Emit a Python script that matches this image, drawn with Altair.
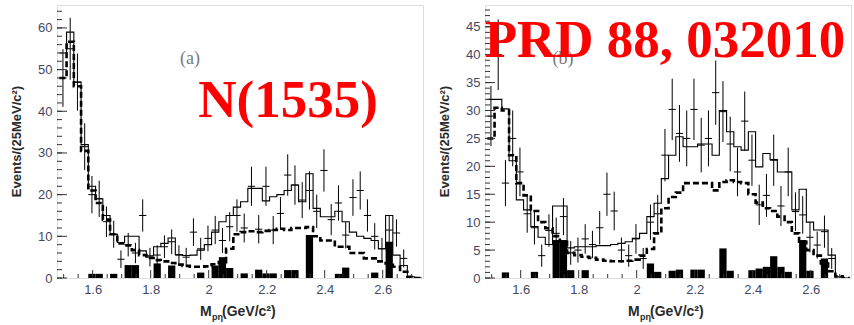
import altair as alt
import pandas as pd

# ---------------- data ----------------
EDGE0 = 1.485          # lower edge of first 25 MeV bin
BINW = 0.025
X_DOMAIN = [1.477, 2.739]
X_MAJOR = [1.6, 1.8, 2.0, 2.2, 2.4, 2.6]
X_MINOR = [1.5, 1.55, 1.65, 1.7, 1.75, 1.85, 1.9, 1.95, 2.05, 2.1, 2.15,
           2.25, 2.3, 2.35, 2.45, 2.5, 2.55, 2.65, 2.7]

# panel (a)
a_data = [48, 55, 47, 31.5, 20, 19, 13.5, 10.5, 4.5, 8,
          6, 15, 5, 5.5, 7.5, 8.7, 5.5, 5, 11, 7,
          9.5, 11.5, 9, 12.3, 15, 12, 22, 11.7, 22, 11.5,
          15.5, 24.7, 22.3, 18.7, 21, 16, 25.8, 14, 18, 10.3,
          19.3, 21, 15, 10, 7, 11.5, 10.8, 4.7, 0, 0]
a_fit = [54, 59, 47, 32, 22, 19, 15, 10.5, 8.5, 10,
         10, 6.5, 5.3, 7.5, 8.3, 9.6, 5.6, 5.4, 5.5, 6.7,
         8, 11, 13.5, 15, 17, 18.3, 21.5, 21.5, 18.5, 19.5,
         20, 21, 22.3, 18.3, 25, 16.7, 14.7, 14.7, 16, 13.5,
         11, 10, 9.5, 9, 7, 15, 5.5, 3, 0.3, 0]
a_sig = [48, 56.7, 46, 30.5, 21, 18, 14, 10.5, 8.3, 7.8,
         6.7, 5.5, 4.8, 4.3, 4, 3.6, 3.2, 2.9, 2.7, 2.7,
         2.8, 3.3, 3.8, 7, 10.5, 11, 11.2, 11, 11.3, 11.5,
         11.8, 11.5, 12, 12, 12.2, 10, 9, 9, 7.5, 7.5,
         6, 6, 4.7, 4.7, 4, 3.5, 2.7, 1.5, 0.3, 0]
a_bkg = [0, 0, 0, 0, 1, 1, 0, 1, 0, 3.1,
         3.1, 0, 0, 3.5, 0, 3, 0, 0, 0, 1.3,
         0, 3, 5, 2.4, 0, 1.1, 0, 2, 1.1, 1.1,
         0, 1.9, 1.9, 0, 10.3, 0, 0, 0, 1, 2.5,
         0, 0, 0, 1.3, 0, 8.7, 0, 0, 0, 0]
A_YMAX = 65.5
A_YMAJOR = [0, 10, 20, 30, 40, 50, 60]
A_YMINOR = list(range(0, 66, 2))

# panel (b)
b_data = [29, 40, 17, 25, 19, 11.5, 9, 4, 8.5, 8,
          11, 4.5, 5, 7, 6, 9, 15, 12, 5, 4,
          7, 3.5, 10, 11.5, 22, 30.2, 25.9, 25, 30.2, 23.8,
          25, 33.2, 29.8, 24, 19, 28.1, 21.1, 13.1, 14.8, 21.1,
          12.9, 19, 11.9, 11.3, 7.3, 5.9, 8.3, 3.5, 0, 0]
b_fit = [32, 32, 30.3, 21, 14, 12.2, 9.2, 7.3, 6, 12.9,
         12.9, 5.4, 5.6, 5.6, 5.6, 5.8, 5.8, 6, 6.2, 6.5,
         7.1, 8, 11, 13.4, 17.8, 22, 25.3, 23.5, 23.5, 24,
         24, 22, 30, 26.2, 23.5, 22.9, 26.2, 19.9, 22.3, 21.2,
         19, 19, 12.2, 15.9, 10, 8.6, 8.6, 4.1, 0.2, 0]
b_sig = [25, 30.5, 30, 22, 17, 14.8, 12, 10, 8.9, 7.5,
         6.5, 4.5, 4.1, 3.8, 3.6, 3.3, 3.1, 3.0, 3.0, 3.1,
         3.3, 4.0, 5.2, 8, 12.5, 14.5, 15.3, 17, 17, 17,
         17, 15.7, 17.2, 17.5, 17.2, 17, 15, 13.5, 12.5, 12,
         11, 10, 8, 6.5, 5, 4, 2.6, 1.2, 0.3, 0]
b_bkg = [0, 0, 1, 0, 0, 0, 1.1, 0, 0, 6.8,
         6.8, 1.4, 0, 1.4, 0, 0, 0, 0, 0, 0,
         0, 0, 2.6, 1.1, 0, 1.3, 1.5, 0, 1.5, 1.5,
         0, 0, 5.3, 1.3, 0, 0, 1.4, 1.7, 2, 3.9,
         2, 1.1, 0, 6.8, 1.3, 0, 3.5, 0, 0, 0]
B_YMAX = 48.9
B_YMAJOR = [0, 5, 10, 15, 20, 25, 30, 35, 40, 45]
B_YMINOR = list(range(0, 49, 1))

Y_TITLE = "Events/(25MeV/c²)"

# ---------------- styling ----------------
W, H = 366, 273
LABEL_COLOR = "#3f4868"
TICK_COLOR = "#333333"
SANS = "Liberation Sans"
SERIF = "Liberation Serif"


def bin_table(data, fit, sig, bkg):
    lo = [EDGE0 + BINW * i for i in range(len(data))]
    return pd.DataFrame({
        "lo": lo,
        "hi": [v + BINW for v in lo],
        "c": [v + BINW / 2 for v in lo],
        "v": data, "fit": fit, "sig": sig, "bkg": bkg,
    })


def step_table(fit, sig):
    x = [EDGE0 + BINW * i for i in range(len(fit) + 1)]
    return pd.DataFrame({"x": x, "fit": fit + [fit[-1]], "sig": sig + [sig[-1]]})


def panel(data, fit, sig, bkg, ymax, ymajor, yminor, letter, letter_x,
          big_text, big_x, big_y):
    df = bin_table(data, fit, sig, bkg)
    sdf = step_table(fit, sig)
    xs = alt.Scale(domain=X_DOMAIN, nice=False, zero=False)
    ys = alt.Scale(domain=[0, ymax], nice=False, zero=False)
    xa = alt.Axis(values=X_MAJOR, ticks=False, tickSize=0,
                  labelExpr="datum.value == 2 ? '2' : format(datum.value, '.1f')",
                  domain=False, grid=False, labelFont=SANS, labelFontSize=13,
                  labelColor=LABEL_COLOR, labelPadding=5, labelFlush=False,
                  title=None)
    ya = alt.Axis(values=ymajor, format="d", ticks=False, tickSize=0,
                  domain=False, grid=False, labelFont=SANS, labelFontSize=13,
                  labelColor=LABEL_COLOR, labelPadding=5, labelFlush=False,
                  title=None)
    X = lambda f: alt.X(f, scale=xs, axis=xa)
    Y = lambda f: alt.Y(f, scale=ys, axis=ya)

    base = alt.Chart(df)
    bk = base.transform_filter("datum.bkg > 0").transform_calculate(
        zero="0").mark_rect(color="black", clip=True).encode(
        x=X("lo:Q"), x2="hi:Q", y=Y("bkg:Q"), y2="zero:Q")

    fitline = alt.Chart(sdf).mark_line(
        interpolate="step-after", color="black", strokeWidth=1.1, clip=True
    ).encode(x=X("x:Q"), y=Y("fit:Q"))
    sigline = alt.Chart(sdf).mark_line(
        interpolate="step-after", color="black", strokeWidth=2.6,
        strokeDash=[6, 3], clip=True
    ).encode(x=X("x:Q"), y=Y("sig:Q"))

    pts = base.transform_filter("datum.v > 0").transform_calculate(
        elo="max(0, datum.v - sqrt(datum.v))", ehi="datum.v + sqrt(datum.v)")
    ev = pts.mark_rule(color="black", strokeWidth=1, clip=True).encode(
        x=X("c:Q"), y=Y("elo:Q"), y2="ehi:Q")
    eh = pts.mark_rule(color="black", strokeWidth=1, clip=True).encode(
        x=X("lo:Q"), x2="hi:Q", y=Y("v:Q"))

    ymaj = alt.Chart(pd.DataFrame({"t": ymajor})).mark_rule(
        color=TICK_COLOR, strokeWidth=1).encode(
        y=Y("t:Q"), x=alt.value(0), x2=alt.value(10))
    ymin = alt.Chart(pd.DataFrame({"t": yminor})).mark_rule(
        color=TICK_COLOR, strokeWidth=1).encode(
        y=Y("t:Q"), x=alt.value(0), x2=alt.value(5))
    xmaj = alt.Chart(pd.DataFrame({"t": X_MAJOR})).mark_rule(
        color=TICK_COLOR, strokeWidth=1).encode(
        x=X("t:Q"), y=alt.value(H), y2=alt.value(H - 8))
    xmin = alt.Chart(pd.DataFrame({"t": X_MINOR})).mark_rule(
        color=TICK_COLOR, strokeWidth=1).encode(
        x=X("t:Q"), y=alt.value(H), y2=alt.value(H - 4))

    one = pd.DataFrame({"k": [0]})
    ytitle = alt.Chart(one).mark_text(
        text=Y_TITLE, angle=270, font=SANS, fontWeight="bold", fontSize=13,
        color="#2a2a2a", align="center", baseline="middle").encode(
        x=alt.value(-40), y=alt.value(H / 2))
    xt_m = alt.Chart(one).mark_text(
        text="M", font=SANS, fontWeight="bold", fontSize=14, color="#2a2a2a",
        align="left", baseline="alphabetic").encode(
        x=alt.value(143), y=alt.value(311))
    xt_sub = alt.Chart(one).mark_text(
        text="pη", font=SANS, fontWeight="bold", fontSize=9, color="#2a2a2a",
        align="left", baseline="alphabetic").encode(
        x=alt.value(155), y=alt.value(315))
    xt_unit = alt.Chart(one).mark_text(
        text="(GeV/c²)", font=SANS, fontWeight="bold", fontSize=14,
        color="#2a2a2a", align="left", baseline="alphabetic").encode(
        x=alt.value(165), y=alt.value(311))
    let = alt.Chart(one).mark_text(
        text=letter, font=SERIF, fontSize=18, color="#7a7a7a",
        align="center", baseline="alphabetic").encode(
        x=alt.value(letter_x), y=alt.value(59))
    big = alt.Chart(one).mark_text(
        text=big_text, font=SERIF, fontWeight="bold", fontSize=53,
        color="#ff0000", align="center", baseline="alphabetic").encode(
        x=alt.value(big_x), y=alt.value(big_y))

    return alt.layer(bk, fitline, sigline, ev, eh, ymin, ymaj, xmin, xmaj,
                     ytitle, xt_m, xt_sub, xt_unit, let, big).properties(
        width=W, height=H)


pa = panel(a_data, a_fit, a_sig, a_bkg, A_YMAX, A_YMAJOR, A_YMINOR,
           "(a)", 133, "N(1535)", 231, 112)
pb = panel(b_data, b_fit, b_sig, b_bkg, B_YMAX, B_YMAJOR, B_YMINOR,
           "(b)", 78, "PRD 88, 032010", 180, 52)

chart = alt.hconcat(pa, pb, spacing=14).properties(
    padding={"left": 10, "top": 4, "right": 0, "bottom": 0}
).configure_view(stroke="#4d4d4d", strokeWidth=1.4).configure(
    background="white")

chart.save("out.html", embed_options={"renderer": "svg", "actions": False})
